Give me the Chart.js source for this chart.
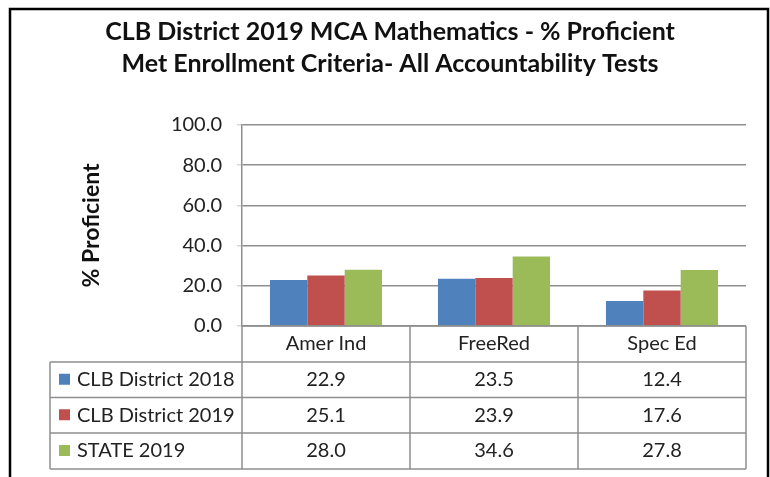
<!DOCTYPE html>
<html>
<head>
<meta charset="utf-8">
<script src="https://cdn.jsdelivr.net/npm/chart.js@4"></script>
<style>
  html, body { margin: 0; padding: 0; background: #fff; }
  #wrap { width: 770px; height: 477px; position: relative; }
</style>
</head>
<body>
<div id="wrap"><canvas id="chart" width="770" height="477"></canvas></div>
<script>
const categories = ['Amer Ind', 'FreeRed', 'Spec Ed'];
const seriesNames = ['CLB District 2018', 'CLB District 2019', 'STATE 2019'];
const district2018 = [22.9, 23.5, 12.4];
const district2019 = [25.1, 23.9, 17.6];
const state2019 = [28.0, 34.6, 27.8];
const yTicks = [0, 20, 40, 60, 80, 100];
const titleLines = ['CLB District 2019 MCA Mathematics - % Proficient', 'Met Enrollment Criteria- All Accountability Tests'];

const colors = ['#4f81bd', '#c0504d', '#9bbb59'];
const lineGray = '#8f8f8f';
const fontFamily = 'Lato, "Open Sans", sans-serif';

// outer frame + data table under the x axis
const tablePlugin = {
  id: 'dataTable',
  afterDraw(chart) {
    const ctx = chart.ctx;
    const area = chart.chartArea;
    const x = chart.scales.x;
    const catW = x.width / categories.length;
    const tableLeft = 50;
    const rows = [area.bottom, area.bottom + 36, area.bottom + 71.5, area.bottom + 107, area.bottom + 143];
    const data = chart.data.datasets;

    ctx.save();
    ctx.strokeStyle = lineGray;
    ctx.lineWidth = 1.5;
    ctx.beginPath();
    // horizontal lines
    ctx.moveTo(area.left, rows[0]);
    ctx.lineTo(area.right, rows[0]);
    for (let r = 1; r < rows.length; r++) {
      ctx.moveTo(tableLeft, rows[r]);
      ctx.lineTo(area.right, rows[r]);
    }
    // vertical lines
    ctx.moveTo(tableLeft, rows[1]);
    ctx.lineTo(tableLeft, rows[rows.length - 1]);
    for (let i = 0; i <= categories.length; i++) {
      const vx = area.left + i * catW;
      ctx.moveTo(vx, rows[0]);
      ctx.lineTo(vx, rows[rows.length - 1]);
    }
    ctx.stroke();

    ctx.fillStyle = '#222';
    ctx.font = '20px ' + fontFamily;
    ctx.textBaseline = 'middle';
    ctx.textAlign = 'center';
    categories.forEach((c, i) => {
      ctx.fillText(c, x.getPixelForValue(i), (rows[0] + rows[1]) / 2);
    });
    data.forEach((ds, r) => {
      const cy = (rows[r + 1] + rows[r + 2]) / 2;
      ds.data.forEach((v, i) => {
        ctx.fillText(v.toFixed(1), x.getPixelForValue(i), cy);
      });
    });
    ctx.textAlign = 'left';
    data.forEach((ds, r) => {
      const cy = (rows[r + 1] + rows[r + 2]) / 2;
      ctx.fillStyle = ds.backgroundColor;
      ctx.fillRect(59, cy - 6, 11, 11);
      ctx.fillStyle = '#222';
      ctx.fillText(ds.label, 77, cy);
    });

    // outer frame
    ctx.strokeStyle = '#000';
    ctx.lineWidth = 2.5;
    ctx.strokeRect(10, 9, 758, 480);
    ctx.restore();
  }
};

new Chart(document.getElementById('chart'), {
  type: 'bar',
  data: {
    labels: categories,
    datasets: [
      { label: seriesNames[0], data: district2018, backgroundColor: colors[0] },
      { label: seriesNames[1], data: district2019, backgroundColor: colors[1] },
      { label: seriesNames[2], data: state2019, backgroundColor: colors[2] }
    ]
  },
  options: {
    responsive: false,
    animation: false,
    layout: { padding: { left: 34, right: 24, top: 0, bottom: 0 } },
    datasets: { bar: { categoryPercentage: 0.667, barPercentage: 1.0 } },
    scales: {
      x: {
        ticks: { display: false },
        grid: { display: false },
        border: { display: false },
        afterFit(s) { s.height = 151; }
      },
      y: {
        min: 0,
        max: 100,
        afterBuildTicks(s) { s.ticks = yTicks.map(v => ({ value: v })); },
        ticks: {
          padding: 15,
          color: '#222',
          font: { family: fontFamily, size: 20 },
          callback: v => Number(v).toFixed(1)
        },
        grid: { color: lineGray, lineWidth: 1.5, tickLength: 5, tickColor: '#d8d8d8' },
        border: { color: lineGray, width: 1.5 },
        title: {
          display: true,
          text: '% Proficient',
          color: '#111',
          font: { family: fontFamily, size: 23, weight: 'bold', lineHeight: 1.2 },
          padding: { top: 44, bottom: 0 }
        },
        afterFit(s) { s.width = 208; }
      }
    },
    plugins: {
      legend: { display: false },
      tooltip: { enabled: false },
      title: {
        display: true,
        text: titleLines,
        color: '#111',
        font: { family: fontFamily, size: 25, weight: 'bold', lineHeight: '32px' },
        padding: { top: 16, bottom: 45 }
      }
    }
  },
  plugins: [tablePlugin]
});
</script>
</body>
</html>
